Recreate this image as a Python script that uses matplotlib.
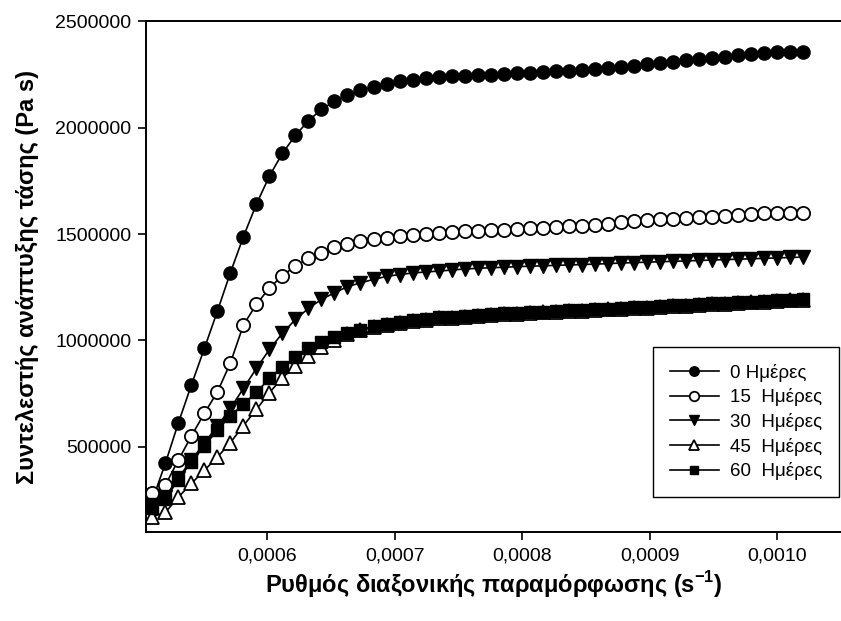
import matplotlib
matplotlib.use("Agg")
import matplotlib.pyplot as plt

plt.rcParams['font.family'] = ['Liberation Sans', 'DejaVu Sans']
plt.rcParams['mathtext.fontset'] = 'custom'
plt.rcParams['mathtext.rm'] = 'Liberation Sans'
plt.rcParams['mathtext.bf'] = 'Liberation Sans:bold'

# shear rate (s^-1)
rate = [0.0005100, 0.0005202, 0.0005304, 0.0005406, 0.0005508, 0.0005610, 0.0005712,
        0.0005814, 0.0005916, 0.0006018, 0.0006120, 0.0006222, 0.0006324, 0.0006426,
        0.0006528, 0.0006630, 0.0006732, 0.0006834, 0.0006936, 0.0007038, 0.0007140,
        0.0007242, 0.0007344, 0.0007446, 0.0007548, 0.0007650, 0.0007752, 0.0007854,
        0.0007956, 0.0008058, 0.0008160, 0.0008262, 0.0008364, 0.0008466, 0.0008568,
        0.0008670, 0.0008772, 0.0008874, 0.0008976, 0.0009078, 0.0009180, 0.0009282,
        0.0009384, 0.0009486, 0.0009588, 0.0009690, 0.0009792, 0.0009894, 0.0009996,
        0.0010098, 0.0010200]

# extensional viscosity (Pa s) per storage time
day0 = [250000, 423000, 613000, 791000, 963000, 1138000, 1319000, 1488000, 1641000, 1773000,
        1880000, 1964000, 2033000, 2086000, 2124000, 2154000, 2177000, 2191000, 2205000, 2218000,
        2226000, 2232000, 2237000, 2241000, 2244000, 2246000, 2248000, 2250000, 2255000, 2258000,
        2262000, 2265000, 2268000, 2273000, 2277000, 2281000, 2287000, 2291000, 2298000, 2305000,
        2310000, 2318000, 2323000, 2329000, 2334000, 2340000, 2346000, 2352000, 2356000, 2357000,
        2358000]
day15 = [281000, 321000, 438000, 551000, 658000, 758000, 895000, 1073000, 1170000, 1247000,
         1304000, 1351000, 1386000, 1413000, 1439000, 1452000, 1469000, 1475000, 1483000, 1491000,
         1496000, 1500000, 1506000, 1508000, 1513000, 1516000, 1518000, 1521000, 1525000, 1529000,
         1530000, 1533000, 1537000, 1539000, 1544000, 1549000, 1555000, 1560000, 1565000, 1569000,
         1572000, 1576000, 1579000, 1582000, 1585000, 1590000, 1594000, 1598000, 1599000, 1600000,
         1600000]
day30 = [225000, 264000, 354000, 438000, 518000, 598000, 681000, 775000, 869000, 958000,
         1034000, 1099000, 1151000, 1193000, 1224000, 1253000, 1271000, 1287000, 1301000, 1310000,
         1317000, 1322000, 1326000, 1331000, 1336000, 1339000, 1342000, 1344000, 1347000, 1349000,
         1351000, 1353000, 1355000, 1357000, 1359000, 1361000, 1364000, 1366000, 1368000, 1370000,
         1372000, 1374000, 1376000, 1378000, 1380000, 1382000, 1384000, 1386000, 1388000, 1390000,
         1392000]
day45 = [172000, 192000, 264000, 328000, 390000, 452000, 520000, 600000, 676000, 755000,
         824000, 882000, 929000, 971000, 1002000, 1031000, 1047000, 1063000, 1073000, 1084000,
         1092000, 1097000, 1105000, 1108000, 1112000, 1116000, 1120000, 1124000, 1126000, 1129000,
         1132000, 1135000, 1137000, 1140000, 1143000, 1146000, 1149000, 1152000, 1155000, 1158000,
         1161000, 1164000, 1167000, 1170000, 1173000, 1176000, 1179000, 1182000, 1185000, 1188000,
         1191000]
day60 = [214000, 255000, 346000, 430000, 504000, 579000, 645000, 701000, 756000, 822000,
         877000, 924000, 965000, 994000, 1015000, 1036000, 1051000, 1067000, 1077000, 1088000,
         1096000, 1101000, 1109000, 1112000, 1116000, 1120000, 1124000, 1128000, 1130000, 1133000,
         1136000, 1139000, 1141000, 1144000, 1147000, 1150000, 1153000, 1156000, 1159000, 1162000,
         1165000, 1168000, 1171000, 1174000, 1177000, 1180000, 1183000, 1186000, 1189000, 1192000,
         1195000]

labels = ['0 Ημέρες', '15  Ημέρες', '30  Ημέρες', '45  Ημέρες', '60  Ημέρες']
xticks = [0.0006, 0.0007, 0.0008, 0.0009, 0.0010]
xticklabels = ['0,0006', '0,0007', '0,0008', '0,0009', '0,0010']
yticks = [500000, 1000000, 1500000, 2000000, 2500000]
yticklabels = ['500000', '1000000', '1500000', '2000000', '2500000']

fig = plt.figure(figsize=(8.41, 6.21), dpi=100)
ax = fig.add_axes([146 / 841, 89 / 621, 695 / 841, 510.7 / 621])

ax.plot(rate, day0, '-o', color='k', lw=1.2, ms=9.5, mfc='k', mec='k', label=labels[0])
ax.plot(rate, day15, '-o', color='k', lw=1.2, ms=9.5, mfc='white', mec='k', mew=1.3, label=labels[1])
ax.plot(rate, day30, '-v', color='k', lw=1.2, ms=10, mfc='k', mec='k', label=labels[2])
ax.plot(rate, day45, '-^', color='k', lw=1.2, ms=10, mfc='white', mec='k', mew=1.3, label=labels[3])
ax.plot(rate, day60, '-s', color='k', lw=1.2, ms=8.5, mfc='k', mec='k', label=labels[4])

ax.set_xlim(0.000505, 0.00105)
ax.set_ylim(100000, 2500000)
ax.set_xticks(xticks)
ax.set_xticklabels(xticklabels)
ax.set_yticks(yticks)
ax.set_yticklabels(yticklabels)

ax.spines['right'].set_visible(False)
for s in ['left', 'bottom', 'top']:
    ax.spines[s].set_linewidth(1.4)
ax.tick_params(direction='out', length=5.5, width=1.2, labelsize=14)
ax.tick_params(axis='x', pad=6)
ax.tick_params(axis='y', pad=5)

ax.set_xlabel('Ρυθμός διαξονικής παραμόρφωσης (s$^{\\mathbf{-1}}$)', fontsize=17,
              fontweight='bold', labelpad=3)
ax.set_ylabel('Συντελεστής ανάπτυξης τάσης (Pa s)', fontsize=17, fontweight='bold',
              labelpad=12)

leg = ax.legend(loc='upper left', bbox_to_anchor=(653 / 841, 1 - 347 / 621),
                bbox_transform=fig.transFigure, borderaxespad=0, fontsize=13.5,
                frameon=True, fancybox=False, edgecolor='k', framealpha=1,
                markerscale=0.72, handlelength=2.6, labelspacing=0.35, borderpad=0.9,
                handletextpad=0.6)
leg.get_frame().set_linewidth(1.0)

fig.savefig('out.png', dpi=100)
